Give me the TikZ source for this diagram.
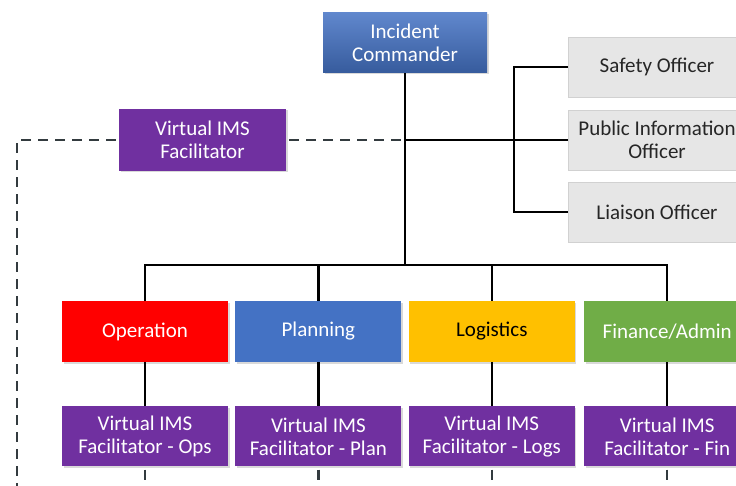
\documentclass[tikz,border=0pt]{standalone}
\usepackage{fontspec}
\setmainfont{Carlito}
\usepackage{tikz}
\usetikzlibrary{positioning, shadows}

\definecolor{imspurple}{HTML}{7030A0}
\definecolor{imsblue}{HTML}{4472C4}
\definecolor{imsred}{HTML}{FF0000}
\definecolor{imsgold}{HTML}{FFC000}
\definecolor{imsgreen}{HTML}{70AD47}
\definecolor{imsgray}{HTML}{E6E6E6}
\definecolor{dashgray}{HTML}{333B3F}

\begin{document}
\begin{tikzpicture}[
    x=1pt, y=-1pt,
    box/.style={minimum width=166pt, minimum height=61pt, inner sep=2pt, align=center, text=white,
        font=\fontsize{21}{23}\selectfont,
        drop shadow={shadow xshift=1.5pt, shadow yshift=-1.5pt, opacity=0.3}},
    officer/.style={box, fill=imsgray, draw=black!18, text=black!85, minimum width=178pt, minimum height=60pt},
    link/.style={line width=2.2pt, black},
    vlink/.style={line width=2.2pt, dashgray, dash pattern=on 10pt off 7pt, dash phase=-3pt}
]

\useasboundingbox (0,0) rectangle (736,486);
\clip (0,0) rectangle (736,486);

% command staff
\node[box, minimum width=164pt, minimum height=60pt, top color=imsblue!85!white, bottom color=imsblue!80!black] (ic) at (405,43) {Incident\\Commander};
\node[box, fill=imspurple, minimum width=167pt, minimum height=62pt] (vims) at (202.5,140) {Virtual IMS\\Facilitator};
\node[officer] (safety) at (657,67) {Safety Officer};
\node[officer] (pio) at (657,140) {Public Information\\Officer};
\node[officer] (liaison) at (657,212) {Liaison Officer};

% sections
\node[box, fill=imsred] (ops) at (145,331.5) {Operation};
\node[box, fill=imsblue, right=7pt of ops] (plan) {Planning};
\node[box, fill=imsgold, text=black, right=7pt of plan] (logs) {Logistics};
\node[box, fill=imsgreen, right=9pt of logs] (fin) {Finance/Admin};

\foreach \d/\t in {ops/Ops, plan/Plan, logs/Logs, fin/Fin}
    \node[box, fill=imspurple, minimum height=60pt, below=44pt of \d] (v\d) {Virtual IMS\\Facilitator - \t};

\coordinate (hub) at (405,140);
\coordinate (bar) at (405,265);
\coordinate (brk) at (514,140);
\coordinate (corner) at (17,140);
\coordinate (floor) at (0,492);

\draw[link] (ic) -- (bar);
\draw[link] (ops.north) |- (bar) -| (fin.north);
\draw[link] (plan.north) -- (plan.north |- bar);
\draw[link] (logs.north) -- (logs.north |- bar);
\draw[link] (hub) -- (pio.west);
\draw[link] (safety.west) -| (brk) |- (liaison.west);

\foreach \d in {ops, plan, logs, fin} {
    \draw[link] (\d) -- (v\d);
    \draw[vlink] (v\d.south) -- (v\d.south |- floor);
}

\draw[vlink] (vims) -- (hub);
\draw[vlink] (vims.west) -- (corner) -- (corner |- floor);

\end{tikzpicture}
\end{document}
